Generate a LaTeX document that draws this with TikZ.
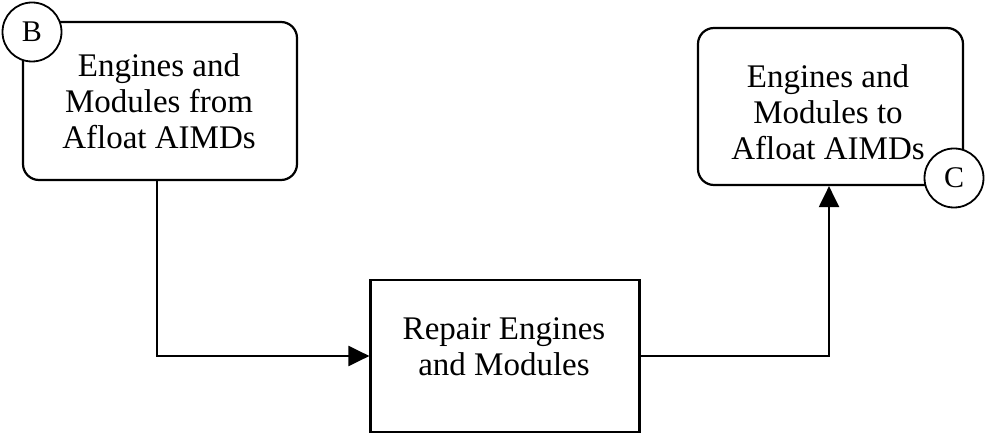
\documentclass[tikz,border=0pt]{standalone}
\usepackage{fontspec}
\setmainfont{Liberation Serif}
\usetikzlibrary{arrows.meta}
\begin{document}
\begin{tikzpicture}[x=1pt,y=-1pt,
  box/.style={draw, line width=2.2pt, inner sep=0pt},
  rbox/.style={box, rounded corners=16pt},
  txt/.style={align=center, font=\fontsize{33}{36}\selectfont, inner sep=0pt},
  tag/.style={draw, circle, line width=1.8pt, fill=white, minimum size=59pt, inner sep=0pt, font=\fontsize{30}{30}\selectfont},
  conn/.style={line width=2.2pt, -{Triangle[length=21pt,width=20pt]}}]
\useasboundingbox (0,0) rectangle (985,435);
\node[rbox, minimum width=274pt, minimum height=158pt] (from) at (160,101) {};
\node[txt] (fromt) at (159,101) {Engines and\\Modules from\\Afloat AIMDs};
\node[rbox, minimum width=265pt, minimum height=157pt] (to) at (830.5,106.5) {};
\node[txt] (tot) at (828,112) {Engines and\\Modules to\\Afloat AIMDs};
\node[box, minimum width=269pt, minimum height=152pt] (rep) at (505,356) {};
\node[txt] (rept) at (504,347) {Repair Engines\\and Modules};
\node[tag] (b) at (32,32) {B};
\node[tag] (c) at (954,178) {C};
\draw[conn] (from.south -| 157,0) |- (rep.west);
\draw[conn] (rep.east) -| (to.south -| 829,0);
\end{tikzpicture}
\end{document}
